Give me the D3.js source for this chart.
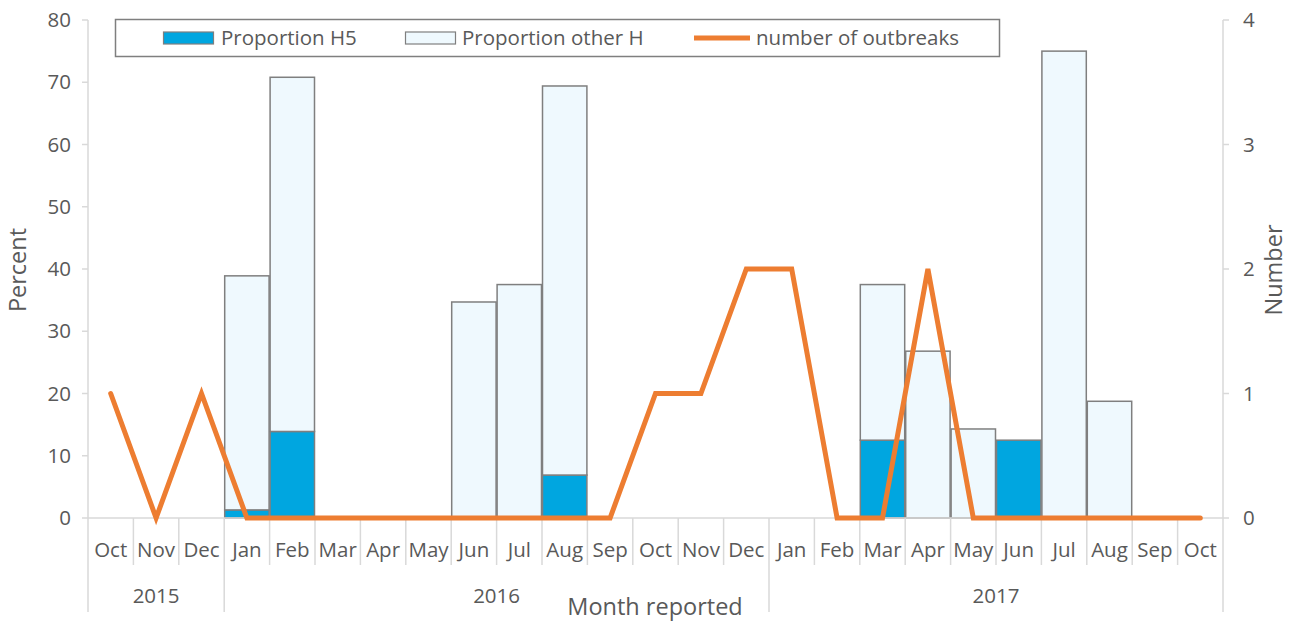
<!DOCTYPE html>
<html><head><meta charset="utf-8">
<script src="https://cdn.jsdelivr.net/npm/d3@7"></script>
<style>
body{margin:0;background:#fff;}
text{font-family:"Open Sans","Noto Sans",sans-serif;fill:#595959;}
</style></head>
<body><svg id="c" width="1295" height="623"></svg>
<script>
const months = ["Oct","Nov","Dec","Jan","Feb","Mar","Apr","May","Jun","Jul","Aug","Sep","Oct","Nov","Dec","Jan","Feb","Mar","Apr","May","Jun","Jul","Aug","Sep","Oct"];
const years = [{label:"2015",start:0,end:2},{label:"2016",start:3,end:14},{label:"2017",start:15,end:24}];
const propH5 =     [0,0,0,1.3,13.9,0,0,0,0,0,6.9,0,0,0,0,0,0,12.5,0,0,12.5,0,0,0,0];
const propOtherH = [0,0,0,37.6,56.9,0,0,0,34.7,37.5,62.5,0,0,0,0,0,0,25,26.8,14.3,0,75,18.75,0,0];
const outbreaks =  [1,0,1,0,0,0,0,0,0,0,0,0,1,1,2,2,0,0,2,0,0,0,0,0,0];
const leftTicks = [0,10,20,30,40,50,60,70,80];
const rightTicks = [0,1,2,3,4];

const svg = d3.select("#c");
const L=88, R=1223, T=20, B=518;
const FS=20.5, TFS=23.5;
const x = d3.scaleBand().domain(d3.range(months.length)).range([L,R]).padding(0);
const yL = d3.scaleLinear().domain([0,80]).range([B,T]);
const yR = d3.scaleLinear().domain([0,4]).range([B,T]);
const axisCol="#d9d9d9";

// axes lines
svg.append("line").attr("x1",L).attr("x2",L).attr("y1",T).attr("y2",612).attr("stroke",axisCol).attr("stroke-width",1.5);
svg.append("line").attr("x1",R).attr("x2",R).attr("y1",T).attr("y2",612).attr("stroke",axisCol).attr("stroke-width",1.5);
leftTicks.forEach(t=>{
  svg.append("line").attr("x1",L-6).attr("x2",L).attr("y1",yL(t)).attr("y2",yL(t)).attr("stroke",axisCol).attr("stroke-width",1.5);
  svg.append("text").attr("x",71).attr("y",yL(t)).attr("dy","0.35em").attr("text-anchor","end").attr("font-size",FS).text(t);
});
rightTicks.forEach(t=>{
  svg.append("line").attr("x1",R).attr("x2",R+6).attr("y1",yR(t)).attr("y2",yR(t)).attr("stroke",axisCol).attr("stroke-width",1.5);
  svg.append("text").attr("x",1243).attr("y",yR(t)).attr("dy","0.35em").attr("text-anchor","start").attr("font-size",FS).text(t);
});

// bars
const g = svg.append("g");
months.forEach((m,i)=>{
  const x0 = x(i), w = x.bandwidth();
  if(propH5[i]>0){
    g.append("rect").attr("x",x0+0.5).attr("width",w-1).attr("y",yL(propH5[i])).attr("height",yL(0)-yL(propH5[i]))
      .attr("fill","#00A6E0").attr("stroke","#7f7f7f").attr("stroke-width",1.5);
  }
  if(propOtherH[i]>0){
    const top = propH5[i]+propOtherH[i];
    g.append("rect").attr("x",x0+0.5).attr("width",w-1).attr("y",yL(top)).attr("height",yL(propH5[i])-yL(top))
      .attr("fill","#EFF9FE").attr("stroke","#7f7f7f").attr("stroke-width",1.5);
  }
});

svg.append("line").attr("x1",L).attr("x2",R).attr("y1",B).attr("y2",B).attr("stroke",axisCol).attr("stroke-width",1.5);
const yearBounds = new Set(years.map(y=>y.start));
d3.range(1,months.length).forEach(i=>{
  const xx = L + i*x.bandwidth();
  const isYear = yearBounds.has(i);
  svg.append("line").attr("x1",xx).attr("x2",xx).attr("y1",B).attr("y2",isYear?612:565).attr("stroke",axisCol).attr("stroke-width",1.5);
});
months.forEach((m,i)=>{
  svg.append("text").attr("x",x(i)+x.bandwidth()/2).attr("y",550).attr("dy","0.35em").attr("text-anchor","middle").attr("font-size",FS).text(m);
});
years.forEach(y=>{
  const cx = (x(y.start)+x(y.end)+x.bandwidth())/2;
  svg.append("text").attr("x",cx).attr("y",596).attr("dy","0.35em").attr("text-anchor","middle").attr("font-size",FS).text(y.label);
});

const line = d3.line().x((d,i)=>x(i)+x.bandwidth()/2).y(d=>yR(d));
svg.append("path").datum(outbreaks).attr("d",line).attr("fill","none").attr("stroke","#ED7D31").attr("stroke-width",5).attr("stroke-linejoin","miter").attr("stroke-linecap","round");

svg.append("text").attr("transform","translate(18,270) rotate(-90)").attr("dy","0.35em").attr("text-anchor","middle").attr("font-size",TFS).text("Percent");
svg.append("text").attr("transform","translate(1274,270) rotate(-90)").attr("dy","0.35em").attr("text-anchor","middle").attr("font-size",TFS).text("Number");
svg.append("text").attr("x",655).attr("y",607).attr("dy","0.35em").attr("text-anchor","middle").attr("font-size",TFS).text("Month reported");

const lg = svg.append("g");
lg.append("rect").attr("x",115.5).attr("y",19.5).attr("width",884).attr("height",37).attr("fill","#fff").attr("stroke","#7f7f7f").attr("stroke-width",1.5);
lg.append("rect").attr("x",163.5).attr("y",32).attr("width",50).attr("height",12).attr("fill","#00A6E0").attr("stroke","#7f7f7f").attr("stroke-width",1.2);
lg.append("text").attr("x",221).attr("y",38).attr("dy","0.35em").attr("font-size",FS).text("Proportion H5");
lg.append("rect").attr("x",405.5).attr("y",32).attr("width",50).attr("height",12).attr("fill","#EFF9FE").attr("stroke","#7f7f7f").attr("stroke-width",1.2);
lg.append("text").attr("x",462).attr("y",38).attr("dy","0.35em").attr("font-size",FS).text("Proportion other H");
lg.append("line").attr("x1",694).attr("x2",750).attr("y1",38).attr("y2",38).attr("stroke","#ED7D31").attr("stroke-width",5);
lg.append("text").attr("x",756).attr("y",38).attr("dy","0.35em").attr("font-size",FS).text("number of outbreaks");
</script></body></html>
